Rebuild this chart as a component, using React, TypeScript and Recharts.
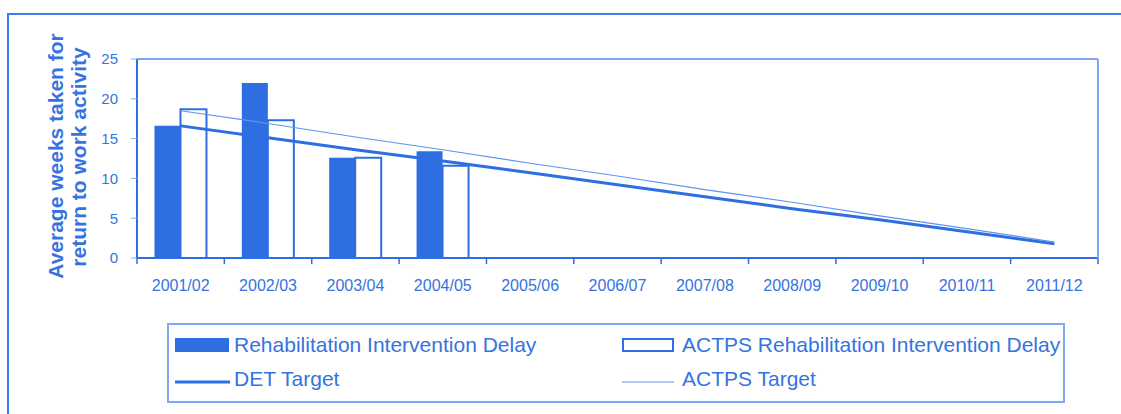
import React from 'react';
import { ComposedChart, Bar, Line, XAxis, YAxis, ReferenceLine } from 'recharts';

const categories = ['2001/02', '2002/03', '2003/04', '2004/05', '2005/06', '2006/07', '2007/08', '2008/09', '2009/10', '2010/11', '2011/12'];
const rehabDelay = [16.6, 22.0, 12.6, 13.4, null, null, null, null, null, null, null];
const actpsRehabDelay = [18.7, 17.3, 12.6, 11.6, null, null, null, null, null, null, null];
const detTarget = [16.6, 15.1, 13.6, 12.2, 10.7, 9.2, 7.7, 6.2, 4.8, 3.3, 1.8];
const actpsTarget = [18.5, 16.9, 15.2, 13.6, 11.9, 10.3, 8.6, 7.0, 5.3, 3.7, 2.0];
const yTicks = [0, 5, 10, 15, 20, 25];

const seriesNames = {
  rehab: 'Rehabilitation Intervention Delay',
  actpsRehab: 'ACTPS Rehabilitation Intervention Delay',
  det: 'DET Target',
  actps: 'ACTPS Target',
};

const BLUE = '#2d6fe2';
const TEXT_BLUE = '#3573e0';
const LIGHT_BLUE = '#7ea9f2';
const FONT = '"Liberation Sans", Arial, sans-serif';

const W = 1121;
const H = 414;
const PLOT_LEFT = 137;
const PLOT_RIGHT = 1098;
const PLOT_TOP = 59;
const PLOT_BOTTOM = 258;
const Y_AXIS_W = 40;
const X_AXIS_H = 40;
const BAND = (PLOT_RIGHT - PLOT_LEFT) / categories.length;

const data = categories.map((c, i) => ({
  period: c,
  rehab: rehabDelay[i],
  actpsRehab: actpsRehabDelay[i],
  det: detTarget[i],
  actps: actpsTarget[i],
}));

// label in the band centre, tick marks on the band boundaries
const CategoryTick = (props: any) => {
  const { x, y, payload, index } = props;
  const last = index === categories.length - 1;
  return (
    <g>
      <line x1={x - BAND / 2} x2={x - BAND / 2} y1={y} y2={y + 6} stroke={BLUE} strokeWidth={1.5} />
      {last && <line x1={x + BAND / 2} x2={x + BAND / 2} y1={y} y2={y + 6} stroke={BLUE} strokeWidth={1.5} />}
      <text x={x} y={y + 33} textAnchor="middle" fill={TEXT_BLUE} fontSize={16} fontFamily={FONT}>
        {payload.value}
      </text>
    </g>
  );
};

const Overlay = () => (
  <svg width={W} height={H} style={{ position: 'absolute', left: 0, top: 0, pointerEvents: 'none' }}>
    <g fontFamily={FONT} fontWeight="bold" fontSize={21} fill={TEXT_BLUE}>
      <text transform="translate(63,156) rotate(-90)" textAnchor="middle">Average weeks taken for</text>
      <text transform="translate(86,157) rotate(-90)" textAnchor="middle">return to work activity</text>
    </g>
    <rect x={168} y={324} width={896} height={78} fill="none" stroke={LIGHT_BLUE} strokeWidth={2} />
    <g fontFamily={FONT} fontSize={21} fill={TEXT_BLUE}>
      <rect x={175} y={338} width={54} height={14} fill={BLUE} />
      <text x={234} y={352}>{seriesNames.rehab}</text>
      <rect x={623} y={339} width={50} height={12} fill="#fff" stroke={BLUE} strokeWidth={2} />
      <text x={682} y={352}>{seriesNames.actpsRehab}</text>
      <line x1={175} x2={230} y1={382} y2={382} stroke={BLUE} strokeWidth={3} />
      <text x={234} y={386}>{seriesNames.det}</text>
      <line x1={622} x2={674} y1={382} y2={382} stroke="#5f95ee" strokeWidth={1.2} />
      <text x={682} y={386}>{seriesNames.actps}</text>
    </g>
  </svg>
);

export default function App() {
  return (
    <div style={{ position: 'absolute', left: 0, top: 0, width: W, height: H, background: '#fff', overflow: 'hidden' }}>
      <div style={{ position: 'absolute', left: 7, top: 13, width: 1140, height: 420, border: '2px solid #3a80ec', boxSizing: 'border-box' }} />
      <div style={{ position: 'absolute', left: 0, top: 0 }}>
        <ComposedChart
          width={W}
          height={H}
          data={data}
          margin={{ top: PLOT_TOP, left: PLOT_LEFT - Y_AXIS_W, right: W - PLOT_RIGHT - 1, bottom: H - PLOT_BOTTOM - X_AXIS_H }}
          barCategoryGap="20%"
          barGap={0}
        >
          <XAxis
            dataKey="period"
            height={X_AXIS_H}
            axisLine={{ stroke: BLUE, strokeWidth: 2 }}
            tickLine={false}
            tickSize={0}
            tickMargin={0}
            interval={0}
            tick={<CategoryTick />}
          />
          <YAxis
            width={Y_AXIS_W}
            domain={[0, 25]}
            ticks={yTicks}
            axisLine={{ stroke: BLUE, strokeWidth: 2 }}
            tickLine={{ stroke: LIGHT_BLUE }}
            tickSize={6}
            tickMargin={13}
            tick={{ fill: TEXT_BLUE, fontSize: 15, fontFamily: FONT }}
          />
          <YAxis
            yAxisId="frame"
            orientation="right"
            width={1}
            domain={[0, 25]}
            tick={false}
            tickLine={false}
            axisLine={{ stroke: LIGHT_BLUE, strokeWidth: 2 }}
          />
          <ReferenceLine y={25} stroke={LIGHT_BLUE} strokeWidth={2} />
          <Bar dataKey="rehab" name={seriesNames.rehab} fill={BLUE} isAnimationActive={false} />
          <Bar dataKey="actpsRehab" name={seriesNames.actpsRehab} fill="#fff" stroke={BLUE} strokeWidth={2} isAnimationActive={false} />
          <Line type="linear" dataKey="det" name={seriesNames.det} stroke={BLUE} strokeWidth={3} dot={false} isAnimationActive={false} />
          <Line type="linear" dataKey="actps" name={seriesNames.actps} stroke="#5f95ee" strokeWidth={1.2} dot={false} isAnimationActive={false} />
        </ComposedChart>
      </div>
      <Overlay />
    </div>
  );
}
